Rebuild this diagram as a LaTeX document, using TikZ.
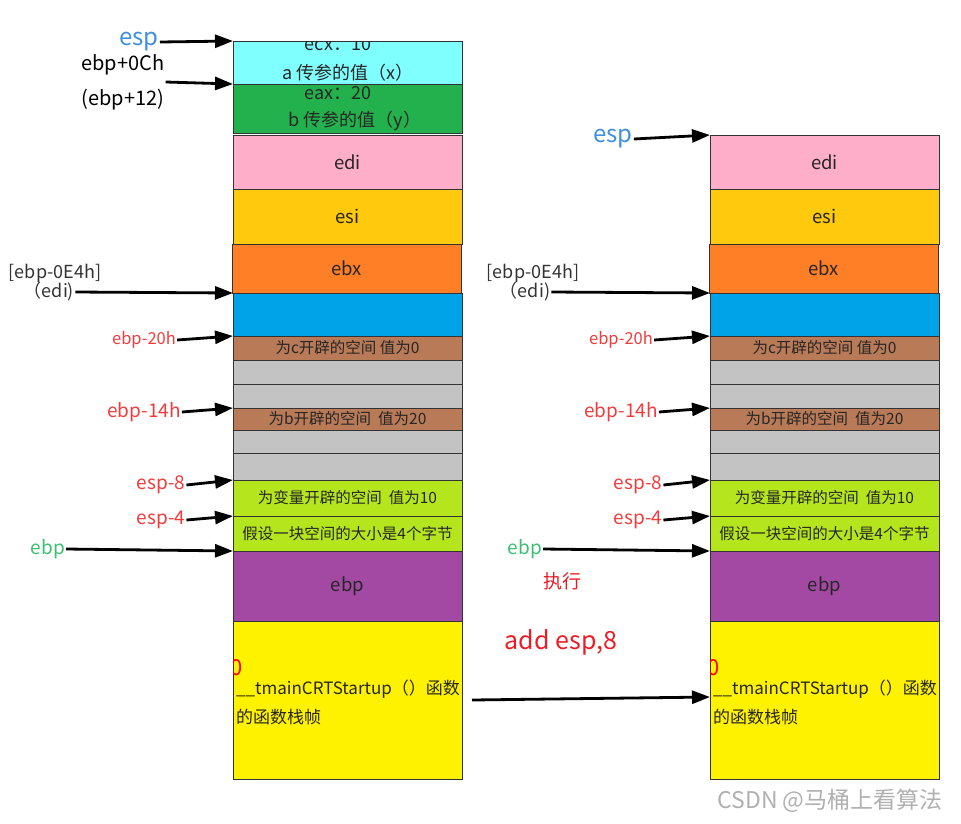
\documentclass[tikz,border=0pt]{standalone}
\usepackage{fontspec}
\newfontfamily\cjk{Noto Sans CJK SC}
\usepackage{xcolor}
\usetikzlibrary{arrows.meta,positioning}
\definecolor{frameCyan}{HTML}{80FFFF}
\definecolor{frameGreen}{HTML}{22B14C}
\definecolor{framePink}{HTML}{FFAEC9}
\definecolor{frameGold}{HTML}{FFC90E}
\definecolor{frameOrange}{HTML}{FF7F27}
\definecolor{frameBlue}{HTML}{00A2E8}
\definecolor{frameBrown}{HTML}{B97A57}
\definecolor{frameGray}{HTML}{C3C3C3}
\definecolor{frameLime}{HTML}{B5E61D}
\definecolor{framePurple}{HTML}{A349A4}
\definecolor{frameYellow}{HTML}{FFF200}
\definecolor{labelRed}{HTML}{F23C3C}
\definecolor{labelBlue}{HTML}{3F8FE0}
\definecolor{labelGreen}{HTML}{3CBF73}
\definecolor{noteRed}{HTML}{ED1C24}
\definecolor{markGray}{HTML}{B0B0B0}
\tikzset{
  cell/.style={
    rectangle,
    anchor=north west,
    draw=black!80,
    line width=0.8pt,
    minimum width=229pt,
    inner sep=0pt,
    outer sep=0pt,
    text=black!85,
    font=\cjk\fontsize{18.5}{20}\selectfont
  },
  cellNote/.style={
    inner sep=0pt,
    text=black!85,
    font=\cjk\fontsize{15}{18}\selectfont
  },
  ptrLabel/.style={
    inner sep=1pt,
    font=\cjk\fontsize{19}{22}\selectfont
  },
  ptrArrow/.style={
    -{Triangle[length=18pt,width=13pt]},
    line width=2.8pt,
    draw=black
  }
}

\begin{document}
\begin{tikzpicture}[x=1pt,y=-1pt]
  \useasboundingbox (0,0) rectangle (961,823);
  % left frame (before add esp,8)
  \node[cell,fill=frameCyan,minimum height=43pt] (lCyan) at (233,41) {};
  \node[cell,fill=frameGreen,minimum height=49pt] (lGreen) at (233,84) {};
  \node[cell,fill=framePink,minimum height=54pt] (lPink) at (233,135) {edi};
  \node[cell,fill=frameGold,minimum height=55pt] (lGold) at (233,189) {esi};
  \node[cell,fill=frameOrange,minimum height=49pt] (lOrange) at (232,244) {ebx};
  \node[cell,fill=frameBlue,minimum height=43pt] (lBlue) at (233,293) {};
  \node[cell,fill=frameBrown,minimum height=24pt,font=\cjk\fontsize{15.5}{18}\selectfont] (lBrownC) at (233,336) {为c开辟的空间 值为0};
  \node[cell,fill=frameGray,minimum height=24pt] (lGrayA) at (233,360) {};
  \node[cell,fill=frameGray,minimum height=24pt] (lGrayB) at (233,384) {};
  \node[cell,fill=frameBrown,minimum height=22pt,font=\cjk\fontsize{15.5}{18}\selectfont] (lBrownB) at (233,408) {为b开辟的空间\ \ 值为20};
  \node[cell,fill=frameGray,minimum height=23pt] (lGrayC) at (233,430) {};
  \node[cell,fill=frameGray,minimum height=27pt] (lGrayD) at (233,453) {};
  \node[cell,fill=frameLime,minimum height=36pt,font=\cjk\fontsize{15.5}{18}\selectfont] (lLimeA) at (233,480) {为变量开辟的空间\ \ 值为10};
  \node[cell,fill=frameLime,minimum height=35pt,font=\cjk\fontsize{15.5}{18}\selectfont] (lLimeB) at (233,516) {假设一块空间的大小是4个字节};
  \node[cell,fill=framePurple,minimum height=70pt] (lPurple) at (233,551) {ebp};
  \node[cell,fill=frameYellow,minimum height=158pt] (lYellow) at (233,621) {};
  \begin{scope}
    \clip (lCyan.north west) rectangle (lCyan.south east);
    \node[cellNote,font=\cjk\fontsize{18}{20}\selectfont] (lEcx) at (338,44) {ecx：10};
  \end{scope}
  \node[cellNote,font=\cjk\fontsize{18}{20}\selectfont] (lArgA) at (348,73) {a 传参的值（x）};
  \node[cellNote,font=\cjk\fontsize{18}{20}\selectfont] (lEax) at (338,93) {eax：20};
  \node[cellNote,font=\cjk\fontsize{18}{20}\selectfont] (lArgB) at (355,121) {b 传参的值（y）};
  \begin{scope}
    \clip (lYellow.north west) rectangle (lYellow.south east);
    \node[cellNote,text=red,font=\cjk\fontsize{22}{24}\selectfont] (lZero) at (237,668) {0};
  \end{scope}
  \node[cellNote,anchor=north west,align=left,font=\cjk\fontsize{17}{29}\selectfont] (lTmain) at (236,680) {\_\_tmainCRTStartup（）函数\\的函数栈帧};
  % left pointers
  \node[ptrLabel,text=labelBlue,font=\cjk\fontsize{24}{26}\selectfont] (lEspLbl) at (139,42) {esp};
  \node[ptrLabel,align=center,font=\cjk\fontsize{20}{35}\selectfont] (lArgLbl) at (123,82) {ebp+0Ch\\(ebp+12)};
  \node[ptrLabel,text=black!80,font=\cjk\fontsize{18}{20}\selectfont] (lEdiTop) at (55,273) {[ebp-0E4h]};
  \node[ptrLabel,text=black!80,font=\cjk\fontsize{18}{20}\selectfont] (lEdiLbl) at (49,292) {（edi)};
  \node[ptrLabel,text=labelRed,font=\cjk\fontsize{16.5}{18}\selectfont] (lEbp20Lbl) at (144,340) {ebp-20h};
  \node[ptrLabel,text=labelRed] (lEbp14Lbl) at (144,412) {ebp-14h};
  \node[ptrLabel,text=labelRed] (lEsp8Lbl) at (161,485) {esp-8};
  \node[ptrLabel,text=labelRed] (lEsp4Lbl) at (161,520) {esp-4};
  \node[ptrLabel,text=labelGreen] (lEbpLbl) at (48,549) {ebp};
  \draw[ptrArrow] (lEspLbl.east) -- (lCyan.north west);
  \draw[ptrArrow] (lArgLbl.east) -- (lGreen.north west);
  \draw[ptrArrow] (lEdiLbl.east) -- (lBlue.north west);
  \draw[ptrArrow] (lEbp20Lbl.east) -- (lBrownC.north west);
  \draw[ptrArrow] (lEbp14Lbl.east) -- (lBrownB.north west);
  \draw[ptrArrow] (lEsp8Lbl.east) -- (lLimeA.north west);
  \draw[ptrArrow] (lEsp4Lbl.east) -- (lLimeB.north west);
  \draw[ptrArrow] (lEbpLbl.east) -- (lPurple.north west);
  % right frame (after add esp,8)
  \node[cell,fill=framePink,minimum height=54pt] (rPink) at (710,135) {edi};
  \node[cell,fill=frameGold,minimum height=55pt] (rGold) at (710,189) {esi};
  \node[cell,fill=frameOrange,minimum height=49pt] (rOrange) at (709,244) {ebx};
  \node[cell,fill=frameBlue,minimum height=43pt] (rBlue) at (710,293) {};
  \node[cell,fill=frameBrown,minimum height=24pt,font=\cjk\fontsize{15.5}{18}\selectfont] (rBrownC) at (710,336) {为c开辟的空间 值为0};
  \node[cell,fill=frameGray,minimum height=24pt] (rGrayA) at (710,360) {};
  \node[cell,fill=frameGray,minimum height=24pt] (rGrayB) at (710,384) {};
  \node[cell,fill=frameBrown,minimum height=22pt,font=\cjk\fontsize{15.5}{18}\selectfont] (rBrownB) at (710,408) {为b开辟的空间\ \ 值为20};
  \node[cell,fill=frameGray,minimum height=23pt] (rGrayC) at (710,430) {};
  \node[cell,fill=frameGray,minimum height=27pt] (rGrayD) at (710,453) {};
  \node[cell,fill=frameLime,minimum height=36pt,font=\cjk\fontsize{15.5}{18}\selectfont] (rLimeA) at (710,480) {为变量开辟的空间\ \ 值为10};
  \node[cell,fill=frameLime,minimum height=35pt,font=\cjk\fontsize{15.5}{18}\selectfont] (rLimeB) at (710,516) {假设一块空间的大小是4个字节};
  \node[cell,fill=framePurple,minimum height=70pt] (rPurple) at (710,551) {ebp};
  \node[cell,fill=frameYellow,minimum height=158pt] (rYellow) at (710,621) {};
  \begin{scope}
    \clip (rYellow.north west) rectangle (rYellow.south east);
    \node[cellNote,text=red,font=\cjk\fontsize{22}{24}\selectfont] (rZero) at (714,668) {0};
  \end{scope}
  \node[cellNote,anchor=north west,align=left,font=\cjk\fontsize{17}{29}\selectfont] (rTmain) at (713,680) {\_\_tmainCRTStartup（）函数\\的函数栈帧};
  % right pointers
  \node[ptrLabel,text=labelBlue,font=\cjk\fontsize{24}{26}\selectfont] (rEspLbl) at (613,139) {esp};
  \node[ptrLabel,text=black!80,font=\cjk\fontsize{18}{20}\selectfont] (rEdiTop) at (533,273) {[ebp-0E4h]};
  \node[ptrLabel,text=black!80,font=\cjk\fontsize{18}{20}\selectfont] (rEdiLbl) at (525,292) {（edi)};
  \node[ptrLabel,text=labelRed,font=\cjk\fontsize{16.5}{18}\selectfont] (rEbp20Lbl) at (621,340) {ebp-20h};
  \node[ptrLabel,text=labelRed] (rEbp14Lbl) at (621,412) {ebp-14h};
  \node[ptrLabel,text=labelRed] (rEsp8Lbl) at (638,485) {esp-8};
  \node[ptrLabel,text=labelRed] (rEsp4Lbl) at (638,520) {esp-4};
  \node[ptrLabel,text=labelGreen] (rEbpLbl) at (525,549) {ebp};
  \draw[ptrArrow] (rEspLbl.east) -- (rPink.north west);
  \draw[ptrArrow] (rEdiLbl.east) -- (rBlue.north west);
  \draw[ptrArrow] (rEbp20Lbl.east) -- (rBrownC.north west);
  \draw[ptrArrow] (rEbp14Lbl.east) -- (rBrownB.north west);
  \draw[ptrArrow] (rEsp8Lbl.east) -- (rLimeA.north west);
  \draw[ptrArrow] (rEsp4Lbl.east) -- (rLimeB.north west);
  \draw[ptrArrow] (rEbpLbl.east) -- (rPurple.north west);
  % step between frames
  \node[ptrLabel,text=noteRed,font=\cjk\fontsize{19}{20}\selectfont] (execLbl) at (562,581) {执行};
  \node[ptrLabel,text=noteRed,font=\cjk\fontsize{25}{27}\selectfont] (addLbl) at (561,642) {add esp,8};
  \coordinate (jumpStart) at (472,700);
  \draw[ptrArrow] (jumpStart) -- ([yshift=3pt]rYellow.west |- jumpStart);
  \node[text=markGray,inner sep=0pt,font=\cjk\fontsize{23}{25}\selectfont] (markLbl) at (830,801) {CSDN @马桶上看算法};
\end{tikzpicture}
\end{document}
